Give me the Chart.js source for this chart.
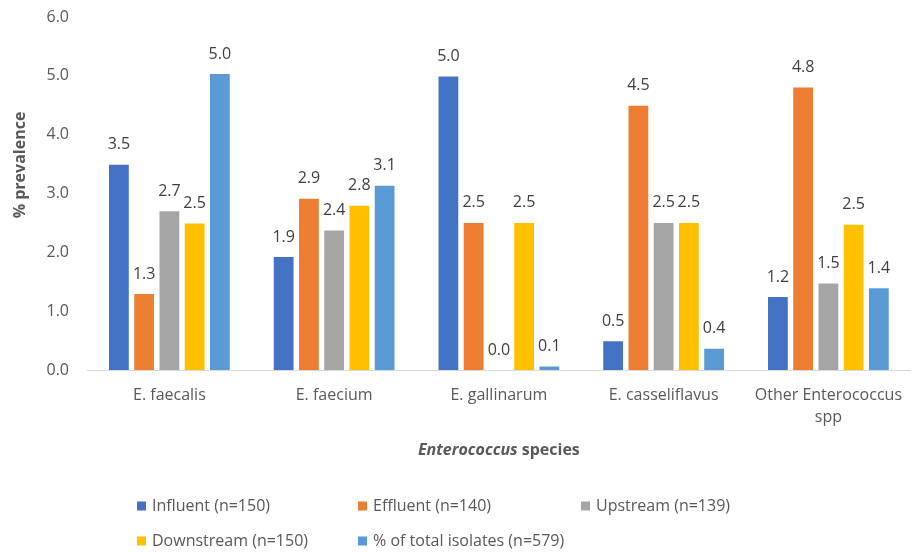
<!DOCTYPE html>
<html>
<head>
<meta charset="utf-8">
<script src="https://cdn.jsdelivr.net/npm/chart.js@4.4.1/dist/chart.umd.min.js"></script>
<style>
  html, body { margin: 0; padding: 0; background: #fff; overflow: hidden; }
  canvas { display: block; }
</style>
</head>
<body>
<canvas id="chart" width="916" height="553"></canvas>
<script>
"use strict";

const categories = ["E. faecalis", "E. faecium", "E. gallinarum", "E. casseliflavus", ["Other Enterococcus", "spp"]];
const influent = [3.49, 1.92, 4.99, 0.49, 1.24];
const effluent = [1.29, 2.91, 2.50, 4.49, 4.80];
const upstream = [2.70, 2.37, 0.00, 2.50, 1.47];
const downstream = [2.49, 2.79, 2.50, 2.50, 2.47];
const totalIsolates = [5.03, 3.13, 0.06, 0.36, 1.39];
const seriesNames = ["Influent (n=150)", "Effluent (n=140)", "Upstream (n=139)", "Downstream (n=150)", "% of total isolates (n=579)"];
const yTicks = [0, 1, 2, 3, 4, 5, 6];

const colors = ["#4472C4", "#ED7D31", "#A5A5A5", "#FFC000", "#5B9BD5"];
const FONT = "'Open Sans', 'Noto Sans', sans-serif";
const TEXT = "#595959";

// value labels above each bar
const barLabels = {
  id: "barLabels",
  afterDatasetsDraw(chart) {
    const ctx = chart.ctx;
    ctx.save();
    ctx.font = "16px " + FONT;
    ctx.fillStyle = "#404040";
    ctx.textAlign = "center";
    ctx.textBaseline = "middle";
    chart.data.datasets.forEach((ds, i) => {
      chart.getDatasetMeta(i).data.forEach((bar, j) => {
        ctx.fillText(ds.data[j].toFixed(1), bar.x, bar.y - 20);
      });
    });
    ctx.restore();
  }
};

// axis titles (x title has an italic genus name)
const axisTitles = {
  id: "axisTitles",
  afterDraw(chart) {
    const ctx = chart.ctx;
    ctx.save();
    ctx.fillStyle = TEXT;
    ctx.textBaseline = "middle";

    ctx.font = "bold 16px " + FONT;
    ctx.translate(20, 165);
    ctx.rotate(-Math.PI / 2);
    ctx.textAlign = "center";
    ctx.fillText("% prevalence", 0, 0);
    ctx.setTransform(1, 0, 0, 1, 0, 0);

    const part1 = "Enterococcus";
    const part2 = " species";
    ctx.font = "italic bold 16px " + FONT;
    const w1 = ctx.measureText(part1).width;
    ctx.font = "bold 16px " + FONT;
    const w2 = ctx.measureText(part2).width;
    const area = chart.chartArea;
    let x = (area.left + area.right) / 2 - (w1 + w2) / 2;
    ctx.textAlign = "left";
    ctx.font = "italic bold 16px " + FONT;
    ctx.fillText(part1, x, 450);
    ctx.font = "bold 16px " + FONT;
    ctx.fillText(part2, x + w1, 450);
    ctx.restore();
  }
};

// legend laid out as a 3-column grid
const gridLegend = {
  id: "gridLegend",
  afterDraw(chart) {
    const ctx = chart.ctx;
    const colX = [137, 358, 581];
    const rowY = [506, 541];
    ctx.save();
    ctx.font = "16px " + FONT;
    ctx.textBaseline = "middle";
    ctx.textAlign = "left";
    chart.data.datasets.forEach((ds, i) => {
      const x = colX[i % 3];
      const y = rowY[Math.floor(i / 3)];
      ctx.fillStyle = ds.backgroundColor;
      ctx.fillRect(x, y - 4.5, 9, 9);
      ctx.fillStyle = TEXT;
      ctx.fillText(ds.label, x + 15, y);
    });
    ctx.restore();
  }
};

const seriesData = [influent, effluent, upstream, downstream, totalIsolates];

new Chart(document.getElementById("chart"), {
  type: "bar",
  data: {
    labels: categories,
    datasets: seriesData.map((d, i) => ({
      label: seriesNames[i],
      data: d,
      backgroundColor: colors[i],
      borderWidth: 0,
      categoryPercentage: 0.766,
      barPercentage: 0.784,
    })),
  },
  options: {
    responsive: false,
    animation: false,
    layout: { padding: { top: 17, right: 0, left: 0, bottom: 0 } },
    plugins: {
      legend: { display: false },
      tooltip: { enabled: false },
    },
    scales: {
      x: {
        grid: { display: false, drawTicks: false },
        border: { color: "#D9D9D9", width: 1 },
        ticks: {
          color: TEXT,
          font: { family: FONT, size: 16, lineHeight: 1.4 },
          padding: 14,
          maxRotation: 0,
          autoSkip: false,
        },
        afterFit(scale) { scale.height = 183; },
      },
      y: {
        min: 0,
        max: 6,
        grid: { display: false, drawTicks: false },
        border: { display: false },
        afterBuildTicks(scale) { scale.ticks = yTicks.map((v) => ({ value: v })); },
        ticks: {
          color: TEXT,
          font: { family: FONT, size: 16 },
          padding: 18,
          callback: (v) => Number(v).toFixed(1),
        },
        afterFit(scale) {
          scale.width = 87;
          scale.paddingTop = 0;
          scale.paddingBottom = 0;
        },
      },
    },
  },
  plugins: [barLabels, axisTitles, gridLegend],
});
</script>
</body>
</html>
